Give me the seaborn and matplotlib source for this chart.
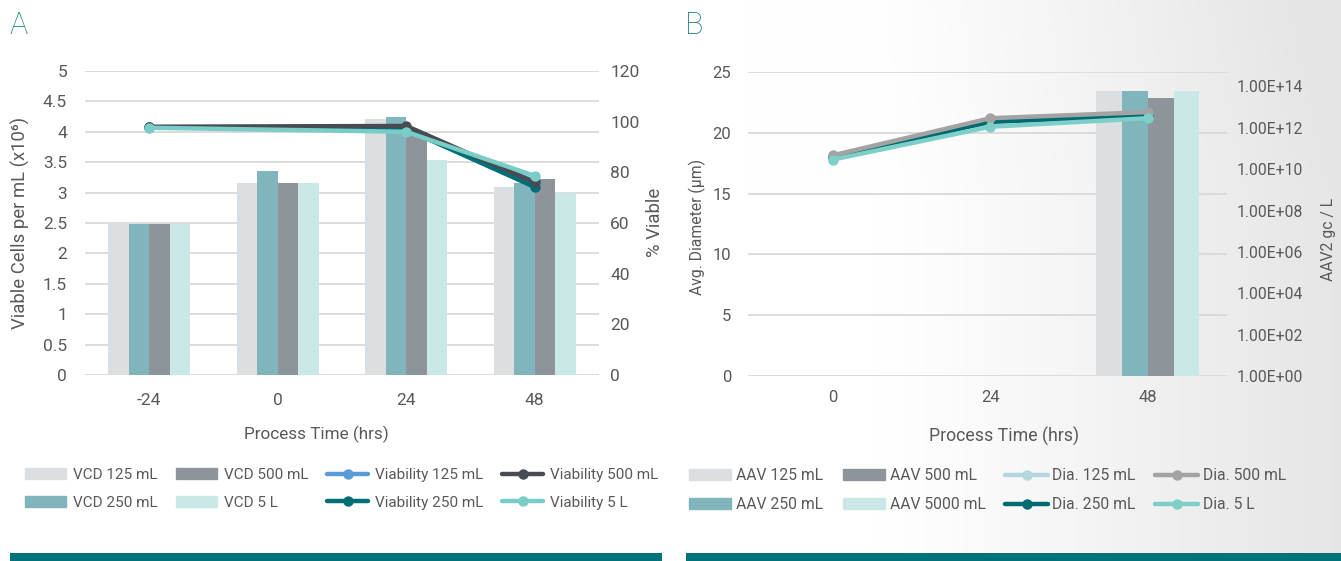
import numpy as np
import pandas as pd
import matplotlib
matplotlib.use("Agg")
import matplotlib.pyplot as plt
import matplotlib.transforms as mtransforms
import seaborn as sns
from matplotlib.patches import Patch, Rectangle
from matplotlib.lines import Line2D
from matplotlib.ticker import FixedLocator, FuncFormatter, NullLocator

# ------------------------------------------------------------------
#   data, panel A (VCD bars + viability lines)
# ------------------------------------------------------------------
times_a = [-24, 0, 24, 48]
vessels_a = ["125 mL", "250 mL", "500 mL", "5 L"]
vcd_125 = [2.50, 3.16, 4.21, 3.09]
vcd_250 = [2.48, 3.36, 4.24, 3.16]
vcd_500 = [2.48, 3.16, 4.00, 3.22]
vcd_5l = [2.48, 3.16, 3.53, 3.00]

via_times = [-24, 24, 48]          # no viability reading at 0 h
via_125 = [97.8, 97.0, 76.5]
via_250 = [97.8, 97.0, 74.2]
via_500 = [98.0, 98.3, 76.0]
via_5l = [97.6, 96.0, 78.6]

# ------------------------------------------------------------------
#   data, panel B (AAV titre bars + diameter lines)
# ------------------------------------------------------------------
times_b = [0, 24, 48]
vessels_b = ["125 mL", "250 mL", "500 mL", "5000 mL"]
aav_times = [48]
aav_125 = [5.8e13]
aav_250 = [5.8e13]
aav_500 = [2.9e13]
aav_5000 = [5.8e13]

dia_vessels = ["125 mL", "250 mL", "500 mL", "5 L"]
dia_125 = [18.0, 20.9, 21.4]
dia_250 = [18.0, 20.9, 21.4]
dia_500 = [18.15, 21.2, 21.7]
dia_5l = [17.8, 20.5, 21.2]

# ------------------------------------------------------------------
#   colours / style
# ------------------------------------------------------------------
bar_colors = ["#dcdfe2", "#80b5bd", "#8d949a", "#c9e8e6"]
via_colors = ["#5b9bd5", "#006e76", "#474c52", "#79cdc6"]
dia_colors = ["#b4d6df", "#006a72", "#a3a3a3", "#7dcfc8"]
txt = "#595959"
grid_c = "#d9d9d9"
teal = "#00737a"

sns.set_style("white")
plt.rcParams["font.family"] = ["Roboto", "DejaVu Sans"]
plt.rcParams["text.color"] = txt
plt.rcParams["axes.labelcolor"] = txt
plt.rcParams["xtick.color"] = txt
plt.rcParams["ytick.color"] = txt

W, H = 1341, 561


def box(l, t, r, b):
    return [l / W, 1 - b / H, (r - l) / W, (b - t) / H]


def long_df(xs, series, names, col):
    rows = []
    for name, vals in zip(names, series):
        for x, v in zip(xs, vals):
            rows.append({"time": x, "vessel": name, col: v})
    return pd.DataFrame(rows)


df_vcd = long_df(times_a, [vcd_125, vcd_250, vcd_500, vcd_5l], vessels_a, "vcd")
df_via = long_df(via_times, [via_125, via_250, via_500, via_5l], vessels_a, "via")
df_via["pos"] = [times_a.index(t) for t in df_via["time"]]
df_aav = long_df(aav_times, [aav_125, aav_250, aav_500, aav_5000], vessels_b, "aav")
df_dia = long_df(times_b, [dia_125, dia_250, dia_500, dia_5l], dia_vessels, "dia")
df_dia["pos"] = [times_b.index(t) for t in df_dia["time"]]

fig = plt.figure(figsize=(W / 100, H / 100), dpi=100)
fig.patch.set_facecolor("white")

# ------------------------------------------------------------------
#   background gradient behind panel B
# ------------------------------------------------------------------
bg = fig.add_axes([680 / W, 0, (W - 680) / W, 1], zorder=-5)
gx, gy = np.meshgrid(np.linspace(0, 1, 300), np.linspace(0, 1, 250))
shade = np.clip((gx - 0.3) / 0.7, 0, 1) ** 1.1
shade = np.clip(shade + 0.35 * np.clip(0.35 - gy, 0, 1) * np.clip(gx - 0.1, 0, 1), 0, 1)
gray = 1 - shade * 0.1
bg.imshow(np.dstack([gray, gray, gray]).clip(0, 1), aspect="auto",
          extent=[0, 1, 0, 1], origin="upper")
bg.set_axis_off()

# ------------------------------------------------------------------
#   panel A
# ------------------------------------------------------------------
ax_a = fig.add_axes(box(85, 71, 599, 375))
sns.barplot(data=df_vcd, x="time", y="vcd", hue="vessel", order=times_a,
            hue_order=vessels_a, palette=bar_colors, saturation=1, width=0.64,
            errorbar=None, legend=False, linewidth=0, ax=ax_a)
ax_a.set_xlim(-0.5, 3.5)
ax_a.set_ylim(0, 5)
ax_a.yaxis.set_major_locator(FixedLocator(np.arange(0, 5.01, 0.5)))
ax_a.yaxis.set_major_formatter(FuncFormatter(lambda v, p: f"{v:g}"))
ax_a.yaxis.grid(True, color=grid_c, lw=1.3)
ax_a.set_axisbelow(True)
ax_a.set_xlabel("")
ax_a.set_ylabel("")
ax_a.tick_params(axis="y", length=0, pad=13, labelsize=12.5)
ax_a.tick_params(axis="x", length=0, pad=13, labelsize=12.5)
ax_a.patch.set_visible(False)

ax_a2 = ax_a.twinx()
sns.lineplot(data=df_via, x="pos", y="via", hue="vessel", hue_order=vessels_a,
             palette=via_colors, lw=3.2, marker="o", markersize=7.5,
             markeredgewidth=0, errorbar=None, legend=False, ax=ax_a2)
ax_a2.set_ylim(0, 120)
ax_a2.yaxis.set_major_locator(FixedLocator(np.arange(0, 121, 20)))
ax_a2.set_ylabel("")
ax_a2.tick_params(axis="y", length=0, pad=8, labelsize=12.5)
ax_a.set_xlim(-0.5, 3.5)

for a in (ax_a, ax_a2):
    for s in a.spines.values():
        s.set_visible(False)

fig.text(20 / W, 1 - 223 / H, "Viable Cells per mL (x10⁶)", rotation=90,
         ha="center", va="center", fontsize=13.3)
fig.text(655 / W, 1 - 222 / H, "% Viable", rotation=90, ha="center",
         va="center", fontsize=13.3)
fig.text(316 / W, 1 - 434 / H, "Process Time (hrs)", ha="center",
         va="center", fontsize=12.3)
fig.text(9 / W, 1 - 26 / H, "A", ha="left", va="center", fontsize=22,
         color="#13797f", fontweight="light")

leg_a = [Patch(color=bar_colors[0], label="VCD 125 mL"),
         Patch(color=bar_colors[1], label="VCD 250 mL"),
         Patch(color=bar_colors[2], label="VCD 500 mL"),
         Patch(color=bar_colors[3], label="VCD 5 L")]
leg_a += [Line2D([], [], color=c, lw=3.2, marker="o", markersize=7.5,
                 markeredgewidth=0, label="Viability " + n)
          for c, n in zip(via_colors, vessels_a)]
fig.legend(handles=leg_a, ncol=4, loc="upper left", frameon=False,
           bbox_to_anchor=(25 / W, 1 - 468 / H), borderpad=0, borderaxespad=0,
           handlelength=2.7, handletextpad=0.45, columnspacing=1.2,
           labelspacing=0.9, fontsize=11)

# ------------------------------------------------------------------
#   panel B
# ------------------------------------------------------------------
ax_b = fig.add_axes(box(748, 72, 1227, 376), zorder=2)
ax_b2 = ax_b.twinx()
ax_b2.set_zorder(1)
ax_b.patch.set_visible(False)
ax_b2.patch.set_visible(False)

sns.barplot(data=df_aav, x="time", y="aav", hue="vessel", order=times_b,
            hue_order=vessels_b, palette=bar_colors, saturation=1, width=0.655,
            errorbar=None, legend=False, linewidth=0, ax=ax_b2)
ax_b2.set_yscale("log")
ax_b2.set_ylim(1, 10 ** 14.7)
ax_b2.yaxis.set_major_locator(FixedLocator([10.0 ** k for k in range(0, 15, 2)]))
ax_b2.yaxis.set_minor_locator(NullLocator())
ax_b2.yaxis.set_major_formatter(FuncFormatter(lambda v, p: f"{v:.2E}"))
ax_b2.set_ylabel("")
ax_b2.set_xlabel("")
ax_b2.tick_params(axis="y", length=0, pad=7, labelsize=11.3)

sns.lineplot(data=df_dia, x="pos", y="dia", hue="vessel", hue_order=dia_vessels,
             palette=dia_colors, lw=3.2, marker="o", markersize=7.5,
             markeredgewidth=0, errorbar=None, legend=False, ax=ax_b)
ax_b.set_ylim(0, 25)
ax_b.yaxis.set_major_locator(FixedLocator(np.arange(0, 26, 5)))
ax_b.set_xticks(range(len(times_b)))
ax_b.set_xticklabels([str(t) for t in times_b])
ax_b.set_xlim(-0.54, 2.503)
ax_b.set_xlabel("")
ax_b.set_ylabel("")
ax_b.tick_params(axis="y", length=0, pad=12, labelsize=12)
ax_b.tick_params(axis="x", length=0, pad=10, labelsize=12, labelbottom=True)

# gridlines follow the left (diameter) axis but sit behind the bars
blend = mtransforms.blended_transform_factory(ax_b2.transAxes, ax_b.transData)
for v in np.arange(0, 26, 5):
    ax_b2.plot([0, 1], [v, v], transform=blend, color=grid_c, lw=1.3, zorder=0.5)

for a in (ax_b, ax_b2):
    for s in a.spines.values():
        s.set_visible(False)

fig.text(697 / W, 1 - 227 / H, "Avg. Diameter (µm)", rotation=90,
         ha="center", va="center", fontsize=11.3)
fig.text(1329 / W, 1 - 239 / H, "AAV2 gc / L", rotation=90, ha="center",
         va="center", fontsize=11.3)
fig.text(1004 / W, 1 - 436 / H, "Process Time (hrs)", ha="center",
         va="center", fontsize=12.8)
fig.text(685 / W, 1 - 26 / H, "B", ha="left", va="center", fontsize=22,
         color="#13797f", fontweight="light")

leg_b = [Patch(color=bar_colors[0], label="AAV 125 mL"),
         Patch(color=bar_colors[1], label="AAV 250 mL"),
         Patch(color=bar_colors[2], label="AAV 500 mL"),
         Patch(color=bar_colors[3], label="AAV 5000 mL")]
leg_b += [Line2D([], [], color=c, lw=3.2, marker="o", markersize=7.5,
                 markeredgewidth=0, label="Dia. " + n)
          for c, n in zip(dia_colors, dia_vessels)]
fig.legend(handles=leg_b, ncol=4, loc="upper left", frameon=False,
           bbox_to_anchor=(689 / W, 1 - 468 / H), borderpad=0, borderaxespad=0,
           handlelength=2.7, handletextpad=0.3, columnspacing=1.25,
           labelspacing=0.9, fontsize=11.3)

# teal footer bars
fig.add_artist(Rectangle((10 / W, 0), 652 / W, 8 / H, transform=fig.transFigure,
                         color=teal, lw=0))
fig.add_artist(Rectangle((686 / W, 0), (W - 686) / W, 8 / H,
                         transform=fig.transFigure, color=teal, lw=0))

fig.savefig("out.png", dpi=100)
